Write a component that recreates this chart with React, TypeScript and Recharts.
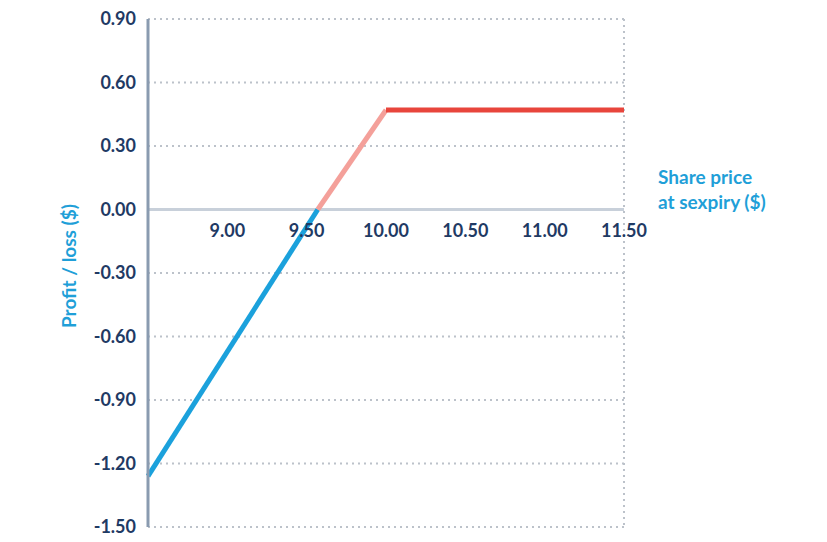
import {
  CartesianGrid,
  LineChart,
  Line,
  ReferenceDot,
  ReferenceLine,
  XAxis,
  YAxis,
} from "recharts";

// payoff segments: loss side, profit ramp, capped profit
const lossLeg = [
  { price: 8.5, pl: -1.26 },
  { price: 9.57, pl: 0 },
];
const rampLeg = [
  { price: 9.57, pl: 0 },
  { price: 10.0, pl: 0.47 },
];
const capLeg = [
  { price: 10.0, pl: 0.47 },
  { price: 11.5, pl: 0.47 },
];

const priceTicks = [9.0, 9.5, 10.0, 10.5, 11.0, 11.5];
const plTicks = [-1.5, -1.2, -0.9, -0.6, -0.3, 0, 0.3, 0.6, 0.9];

const NAVY = "#1f3a64";
const TITLE_BLUE = "#1f9fd8";
const FONT = "Lato, 'Open Sans', sans-serif";

export default function App() {
  return (
    <div
      style={{
        position: "absolute",
        left: 0,
        top: 0,
        width: 827,
        height: 542,
        background: "#fff",
        fontFamily: FONT,
      }}
    >
      <LineChart
        width={827}
        height={542}
        margin={{ top: 19, right: 203, bottom: 15, left: 0 }}
      >
        <CartesianGrid stroke="#bcc2ca" strokeWidth={2} strokeDasharray="2 4" />
        <XAxis
          type="number"
          dataKey="price"
          domain={[8.5, 11.5]}
          ticks={priceTicks}
          axisLine={false}
          tickLine={false}
          tick={false}
          height={0}
        />
        <YAxis
          type="number"
          dataKey="pl"
          domain={[-1.5, 0.9]}
          ticks={plTicks}
          width={148}
          axisLine={{ stroke: "#8a9bb0", strokeWidth: 3 }}
          tickLine={false}
          tickSize={0}
          tickMargin={12}
          tickFormatter={(v: number) => v.toFixed(2)}
          tick={{ fill: NAVY, fontSize: 18, fontWeight: 700, fontFamily: FONT }}
        />
        <ReferenceLine y={0} stroke="#c8d0da" strokeWidth={3} />
        {priceTicks.map((t) => (
          <ReferenceDot
            key={t}
            x={t}
            y={0}
            r={1}
            fill="none"
            stroke="none"
            label={{
              value: t.toFixed(2),
              position: "bottom",
              offset: 14,
              fill: NAVY,
              fontSize: 18,
              fontWeight: 700,
              fontFamily: FONT,
            }}
          />
        ))}
        <Line
          data={lossLeg}
          dataKey="pl"
          type="linear"
          stroke="#1ba1dc"
          strokeWidth={5}
          dot={false}
          isAnimationActive={false}
        />
        <Line
          data={rampLeg}
          dataKey="pl"
          type="linear"
          stroke="#f4a09a"
          strokeWidth={5}
          dot={false}
          isAnimationActive={false}
        />
        <Line
          data={capLeg}
          dataKey="pl"
          type="linear"
          stroke="#e8453c"
          strokeWidth={5}
          dot={false}
          isAnimationActive={false}
        />
      </LineChart>
      <div
        style={{
          position: "absolute",
          left: 68,
          top: 266,
          transform: "translate(-50%, -50%) rotate(-90deg)",
          whiteSpace: "nowrap",
          color: TITLE_BLUE,
          fontSize: 19,
          fontWeight: 700,
        }}
      >
        Profit / loss ($)
      </div>
      <div
        style={{
          position: "absolute",
          left: 658,
          top: 164,
          color: TITLE_BLUE,
          fontSize: 19,
          fontWeight: 700,
          lineHeight: "25px",
        }}
      >
        Share price
        <br />
        at sexpiry ($)
      </div>
    </div>
  );
}
